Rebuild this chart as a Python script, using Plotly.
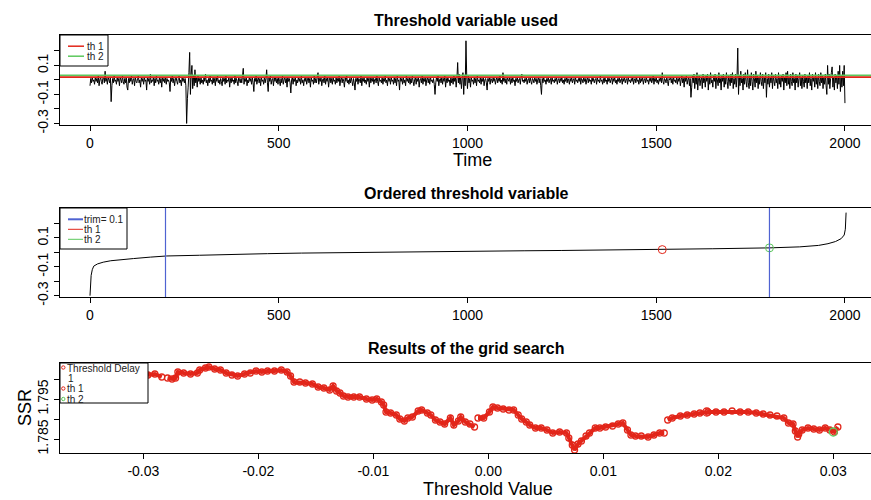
import plotly.graph_objects as go

# ---------------- data ----------------
# Panel 1: threshold variable (read at every 2nd time step)
threshold_series = [
    -0.04, 0.01, -0.02, 0.02, -0.01, 0.00, -0.03, 0.02, -0.01, 0.01, -0.02, 0.03, -0.04, 0.00, 0.02, -0.01, -0.03, 0.01, 0.02, -0.02, 0.06, -0.01, 0.01, -0.03, 0.02,
    0.00, -0.02, 0.02, -0.15, -0.04, 0.01, -0.02, 0.03, -0.01, 0.00, -0.03, 0.02, -0.01, 0.01, -0.04, 0.02, 0.00, -0.02, 0.03, -0.01, -0.03, 0.01, -0.02, 0.02, -0.05,
    -0.07, 0.01, -0.02, 0.02, -0.01, 0.03, -0.03, 0.00, 0.01, -0.04, 0.02, -0.01, -0.02, 0.01, 0.03, -0.02, 0.00, -0.05, 0.02, -0.01, 0.01, -0.03, 0.02, -0.01, 0.00,
    -0.07, 0.02, -0.01, 0.01, -0.03, 0.04, -0.02, 0.00, -0.01, 0.02, -0.04, 0.01, -0.02, 0.03, -0.01, 0.00, -0.03, 0.02, -0.02, 0.01, -0.05, 0.02, -0.01, 0.01, -0.02,
    0.02, -0.03, 0.01, -0.01, 0.00, -0.02, -0.08, 0.02, -0.01, 0.03, -0.02, 0.01, -0.04, 0.00, 0.02, -0.01, -0.03, 0.01, 0.03, -0.02, 0.00, -0.04, 0.02, -0.01, 0.01,
    -0.02, 0.01, -0.04, -0.30, -0.13, -0.05, 0.05, 0.19, -0.10, 0.04, 0.10, -0.06, 0.03, -0.04, 0.07, -0.02, 0.02, -0.05, 0.03, -0.01, 0.01, -0.03, 0.02, -0.02, 0.00,
    -0.03, 0.02, -0.01, 0.04, -0.02, 0.00, -0.04, 0.01, -0.02, 0.03, -0.01, 0.00, -0.03, 0.02, -0.02, 0.01, -0.04, 0.02, -0.01, 0.03, -0.02, 0.00, -0.03, 0.01, -0.01,
    -0.04, 0.02, -0.01, 0.01, -0.03, 0.03, -0.02, 0.00, -0.01, 0.02, -0.05, 0.01, -0.02, 0.02, -0.01, 0.00, -0.03, 0.03, -0.02, 0.01, -0.01, -0.04, 0.02, 0.00, -0.02,
    0.01, -0.02, 0.03, 0.08, -0.03, 0.01, -0.01, 0.02, -0.04, 0.00, -0.02, 0.02, -0.01, 0.01, -0.03, 0.02, -0.02, -0.08, 0.01, -0.01, 0.03, -0.03, 0.00, 0.02, -0.02,
    0.01, -0.04, 0.02, -0.01, 0.00, -0.03, 0.02, -0.02, 0.01, 0.07, -0.02, -0.08, 0.02, -0.01, 0.03, -0.03, 0.00, 0.01, -0.04, 0.02, -0.01, 0.02, -0.02, 0.01, -0.03,
    0.02, -0.01, -0.04, 0.01, -0.02, 0.03, -0.03, 0.00, 0.02, -0.02, 0.01, -0.05, 0.02, -0.01, 0.01, -0.02, -0.09, 0.00, 0.02, -0.03, 0.01, -0.01, 0.02, -0.04, 0.00,
    -0.02, 0.02, -0.01, 0.01, -0.03, 0.03, -0.02, 0.00, -0.04, 0.01, -0.01, 0.02, -0.03, 0.00, 0.02, -0.02, 0.01, -0.05, 0.02, -0.01, 0.00, -0.03, 0.03, -0.02, 0.01,
    -0.02, 0.02, 0.05, -0.03, 0.01, -0.01, 0.02, -0.04, 0.00, 0.01, -0.02, 0.03, -0.03, 0.01, -0.01, 0.02, -0.05, 0.00, 0.02, -0.02, 0.01, -0.03, 0.02, -0.01, 0.00,
    -0.03, 0.02, -0.02, 0.01, -0.01, 0.03, -0.04, 0.00, 0.02, -0.02, 0.01, -0.01, -0.05, 0.02, -0.01, 0.03, -0.02, 0.00, -0.03, 0.01, -0.02, 0.02, -0.01, -0.04, 0.01,
    -0.02, -0.07, 0.01, -0.01, 0.02, -0.03, 0.01, 0.00, -0.02, 0.03, -0.04, 0.01, -0.01, 0.02, -0.02, 0.00, -0.03, 0.02, -0.01, 0.01, -0.05, 0.02, -0.02, 0.01, -0.01,
    0.02, -0.03, 0.00, 0.01, -0.02, 0.03, -0.01, -0.04, 0.02, -0.01, 0.00, -0.02, 0.02, -0.03, 0.01, -0.01, 0.03, -0.02, 0.00, -0.04, 0.02, -0.01, 0.01, -0.03, 0.02,
    -0.01, 0.00, -0.03, 0.02, -0.02, 0.01, -0.04, 0.03, -0.01, 0.00, -0.07, 0.02, -0.01, 0.01, -0.03, 0.02, -0.02, 0.00, -0.04, 0.03, -0.01, 0.01, -0.02, 0.02, -0.03,
    0.01, -0.02, 0.03, -0.01, -0.04, 0.00, 0.02, -0.03, 0.01, -0.01, 0.02, -0.05, 0.00, 0.01, -0.02, 0.03, -0.03, 0.01, -0.01, 0.02, -0.04, 0.00, 0.02, -0.02, 0.01,
    -0.03, 0.02, -0.01, 0.00, -0.02, 0.01, -0.03, -0.10, -0.02, 0.02, -0.01, 0.03, -0.04, 0.00, 0.01, -0.02, 0.02, -0.03, 0.01, -0.01, 0.03, -0.05, 0.01, -0.02, 0.02,
    -0.01, 0.00, -0.04, 0.02, -0.02, 0.01, -0.03, 0.03, -0.01, 0.02, -0.05, 0.01, 0.12, -0.02, 0.04, -0.03, 0.02, -0.06, 0.01, 0.05, -0.10, 0.03, -0.04, 0.27, 0.02,
    -0.06, 0.03, -0.02, 0.01, -0.05, 0.02, -0.01, 0.00, -0.03, 0.02, -0.02, 0.01, -0.04, 0.03, -0.01, 0.00, -0.02, 0.02, -0.03, 0.01, -0.01, 0.02, -0.04, 0.00, 0.01,
    -0.02, -0.07, 0.01, -0.01, 0.02, -0.03, 0.01, 0.00, -0.02, 0.02, -0.01, 0.01, -0.03, 0.00, 0.02, -0.02, 0.01, -0.01, 0.03, -0.02, 0.00, -0.03, 0.05, -0.01, 0.01,
    -0.02, 0.01, -0.03, 0.02, 0.00, -0.01, 0.02, -0.03, 0.01, -0.02, 0.02, -0.01, 0.00, -0.04, 0.01, -0.01, 0.02, -0.02, 0.00, 0.01, -0.03, 0.02, 0.04, -0.01, 0.00,
    -0.02, 0.01, -0.01, 0.02, -0.03, 0.00, 0.01, -0.02, 0.02, -0.01, -0.03, 0.01, 0.00, -0.02, 0.02, -0.01, 0.01, -0.03, 0.00, 0.02, -0.02, 0.01, -0.04, -0.10, 0.01,
    -0.02, 0.02, -0.01, 0.00, -0.03, 0.01, -0.01, 0.02, -0.02, 0.00, 0.01, -0.03, 0.02, -0.01, 0.00, -0.02, 0.01, -0.01, 0.02, -0.03, 0.00, 0.01, -0.02, 0.01, -0.01,
    0.02, -0.02, 0.00, -0.03, 0.01, -0.01, 0.02, -0.02, 0.01, 0.00, -0.03, 0.01, -0.01, 0.02, -0.02, 0.00, 0.01, -0.03, 0.02, -0.01, 0.00, -0.02, 0.01, -0.01, 0.02,
    -0.03, 0.01, 0.00, -0.02, 0.02, -0.01, 0.01, -0.03, 0.00, 0.02, -0.02, 0.01, -0.01, 0.00, -0.03, 0.02, -0.01, 0.01, -0.02, 0.00, 0.01, -0.03, 0.02, -0.01, 0.00,
    -0.02, 0.03, -0.01, 0.00, -0.03, 0.01, -0.02, 0.02, -0.01, 0.00, -0.03, 0.02, -0.01, 0.01, -0.02, 0.00, 0.02, -0.03, 0.01, -0.01, 0.02, -0.02, 0.00, -0.03, 0.01,
    -0.01, 0.02, -0.02, 0.00, 0.01, -0.03, 0.01, -0.01, 0.02, -0.02, 0.00, 0.01, -0.03, 0.02, -0.01, 0.00, -0.02, 0.01, -0.01, 0.02, -0.03, 0.00, 0.01, -0.02, 0.02,
    -0.01, 0.00, -0.03, 0.02, -0.02, 0.01, -0.01, 0.02, -0.03, 0.00, 0.01, -0.02, 0.02, -0.01, 0.00, -0.03, 0.01, -0.01, 0.02, -0.02, 0.00, 0.03, -0.03, 0.01, -0.01,
    0.02, -0.02, 0.00, -0.03, 0.01, -0.01, 0.02, -0.02, 0.05, -0.01, -0.03, 0.01, 0.00, -0.02, 0.02, -0.01, -0.04, 0.01, 0.00, 0.02, -0.02, 0.01, -0.03, 0.02, -0.01,
    0.00, -0.02, 0.02, -0.03, 0.01, -0.01, 0.02, -0.04, 0.00, 0.03, -0.02, 0.01, -0.05, 0.02, -0.01, 0.03, -0.03, 0.00, 0.02, -0.04, 0.01, -0.12, -0.05, 0.03, -0.02,
    0.04, -0.06, 0.02, -0.03, 0.05, -0.07, 0.01, 0.03, -0.04, 0.00, 0.02, -0.06, 0.04, -0.02, 0.01, -0.05, 0.03, -0.01, 0.04, -0.07, 0.02, -0.03, 0.05, -0.02, 0.00,
    -0.05, 0.03, -0.01, 0.04, -0.06, 0.02, 0.00, -0.04, 0.05, -0.02, 0.01, -0.07, 0.03, -0.01, 0.04, -0.05, 0.02, -0.03, 0.05, -0.01, -0.06, 0.03, 0.00, -0.04, 0.04,
    -0.02, 0.05, -0.06, 0.01, -0.03, 0.04, -0.05, 0.02, 0.22, -0.10, 0.03, -0.04, 0.06, -0.02, 0.01, -0.07, 0.04, -0.03, 0.05, -0.01, -0.05, 0.07, -0.02, -0.06, 0.03,
    -0.04, 0.05, -0.01, -0.07, 0.04, 0.01, -0.05, 0.06, -0.02, 0.03, -0.06, 0.02, -0.03, 0.05, -0.01, -0.04, 0.04, -0.06, 0.02, -0.02, 0.05, -0.12, 0.01, -0.03, 0.04,
    -0.05, 0.02, -0.02, 0.05, -0.06, 0.03, -0.01, -0.04, 0.04, -0.02, 0.01, -0.06, 0.05, -0.03, 0.02, -0.05, 0.03, -0.01, 0.04, -0.07, 0.02, -0.02, 0.05, -0.04, 0.06,
    -0.03, 0.02, -0.06, 0.04, -0.01, -0.04, 0.05, -0.02, 0.01, -0.07, 0.04, -0.02, 0.03, -0.05, 0.01, 0.05, -0.04, 0.02, -0.06, 0.03, -0.01, -0.05, 0.04, -0.02, 0.02,
    -0.06, 0.03, -0.02, 0.05, -0.04, 0.01, -0.07, 0.04, -0.01, 0.02, -0.05, 0.05, -0.03, 0.02, -0.06, 0.04, -0.01, -0.04, 0.05, -0.02, 0.03, -0.06, 0.02, -0.03, 0.04,
    -0.04, -0.10, 0.10, -0.03, 0.04, -0.06, 0.01, 0.05, 0.09, -0.05, 0.02, -0.07, 0.04, -0.02, 0.03, -0.06, 0.06, -0.03, 0.10, -0.08, 0.03, -0.05, 0.06, -0.04, 0.10,
    -0.16,
]
time_idx = list(range(0, 2 * len(threshold_series), 2))

# thresholds found
th_labels = ["th 1", "th 2"]
th_values = [0.019, 0.031]

# Panel 2: ordered threshold variable
ord_idx = [0, 1, 3, 6, 10, 20, 35, 55, 80, 115, 160, 203, 290, 380, 470, 560,
           700, 850, 1000, 1150, 1250, 1380, 1516, 1650, 1800, 1880, 1930,
           1955, 1975, 1990, 1998, 2001, 2003]
ord_vals = [-0.30, -0.20, -0.16, -0.12, -0.095, -0.08, -0.068, -0.058, -0.05,
            -0.043, -0.033, -0.025, -0.02, -0.013, -0.009, -0.005, 0.0, 0.004,
            0.008, 0.011, 0.013, 0.016, 0.019, 0.025, 0.031, 0.038, 0.048,
            0.06, 0.075, 0.095, 0.12, 0.16, 0.275]
th_order_idx = [1516, 1800]
trim_idx = [200, 1800]

# Panel 3: grid search results (threshold value vs SSR); None = gap
grid_th = [
    -0.0296, -0.0290, -0.0284, None,
    -0.0279, -0.0275, -0.0272, -0.0270, -0.0265, -0.0259, -0.0253, -0.0251,
    -0.0246, -0.0243, -0.0238, -0.0233, -0.0228, -0.0223, -0.0218, -0.0212,
    -0.0207, -0.0202, -0.0197, -0.0192, -0.0186, -0.0180, -0.0175, -0.0172,
    -0.0169, -0.0164, -0.0159, -0.0153, -0.0148, -0.0143, -0.0138, -0.0135,
    -0.0132, -0.0129, -0.0126, -0.0122, -0.0117, -0.0112, -0.0106, -0.0101,
    -0.0097, -0.0093, -0.0091, -0.0089, -0.0085, -0.0080, -0.0077, -0.0073,
    -0.0070, -0.0066, -0.0061, -0.0058, -0.0053, -0.0050, -0.0046, -0.0042,
    -0.0038, -0.0033, -0.0030, -0.0026, -0.0024, -0.0020, -0.0016, -0.0012,
    None,
    -0.0009, -0.0004, 0.0001, 0.0004, 0.0008, 0.0013, 0.0018, 0.0022, 0.0026,
    0.0029, 0.0033, 0.0036, 0.0041, 0.0046, 0.0051, 0.0056, 0.0062, 0.0068,
    0.0070, 0.0073, 0.0075, 0.0078, 0.0081, 0.0085, 0.0088, 0.0093, 0.0097,
    0.0102, 0.0108, 0.0113, 0.0117, 0.0121, 0.0124, 0.0128, 0.0133, 0.0139,
    0.0144, 0.0149, 0.0153,
    None,
    0.0156, 0.0160, 0.0167, 0.0173, 0.0179, 0.0184, 0.0191, 0.0198, 0.0205,
    0.0212, 0.0219, 0.0226, 0.0233, 0.0239, 0.0245, 0.0251, 0.0257, 0.0261,
    0.0265, 0.0267, 0.0269, 0.0270, 0.0273, 0.0278, 0.0283, 0.0288, 0.0293,
    0.0297, 0.0301, 0.0304,
]
grid_ssr = [
    1.8010, 1.80125, 1.8005, None,
    1.80025, 1.8000, 1.80025, 1.80175, 1.8015, 1.80125, 1.8015, 1.80225,
    1.80275, 1.8030, 1.8025, 1.80225, 1.8015, 1.8010, 1.80075, 1.80125,
    1.8015, 1.8020, 1.80175, 1.8020, 1.8020, 1.80225, 1.80175, 1.80075,
    1.79925, 1.79925, 1.7990, 1.79875, 1.7980, 1.79775, 1.79725, 1.79825,
    1.7970, 1.7965, 1.79575, 1.7955, 1.7955, 1.7955, 1.7950, 1.79475,
    1.7950, 1.79425, 1.7935, 1.79175, 1.7915, 1.7910, 1.7900, 1.7895,
    1.79025, 1.7905, 1.7920, 1.79225, 1.7915, 1.7910, 1.78975, 1.78925,
    1.78875, 1.79025, 1.7885, 1.7895, 1.7905, 1.78925, 1.78875, 1.7880,
    None,
    1.79025, 1.79025, 1.79175, 1.7930, 1.79275, 1.7925, 1.79225, 1.79225, 1.7910,
    1.7900, 1.78925, 1.7885, 1.78775, 1.78775, 1.78725, 1.7865, 1.78675, 1.7865,
    1.78525, 1.7835, 1.78225, 1.78375, 1.7845, 1.78575, 1.7865, 1.78775, 1.78775,
    1.7880, 1.78825, 1.78875, 1.7890, 1.78725, 1.7860, 1.78575, 1.78575, 1.7855,
    1.7860, 1.7865, 1.7865,
    None,
    1.78975, 1.79025, 1.79075, 1.7910, 1.79125, 1.7915, 1.79175, 1.79175, 1.79175,
    1.7920, 1.79175, 1.79175, 1.7915, 1.79125, 1.7910, 1.79075, 1.79025, 1.7890,
    1.78875, 1.7870, 1.7855, 1.78625, 1.78725, 1.78775, 1.7875, 1.78725, 1.78775,
    1.78725, 1.78675, 1.7880,
]
th_grid_x = [0.019, 0.030]
th_grid_ssr = [1.79175, 1.78675]

# ---------------- styling ----------------
FONT = "Liberation Sans, Arial, Helvetica, sans-serif"
W, H = 871, 500
ML = 60
PW = W - ML
RED = "#e2261a"
GREEN = "#5cc85c"
BLUE = "#4f63d2"


def px(x):
    return (x - ML) / PW


def py(y):
    return 1 - y / H


fig = go.Figure()

fig.add_trace(go.Scatter(x=time_idx, y=threshold_series, mode="lines",
                         line=dict(color="black", width=1, simplify=False),
                         xaxis="x", yaxis="y", hoverinfo="skip"))
fig.add_trace(go.Scatter(x=ord_idx, y=ord_vals, mode="lines",
                         line=dict(color="black", width=1),
                         xaxis="x2", yaxis="y2", hoverinfo="skip"))
fig.add_trace(go.Scatter(x=th_order_idx, y=th_values, mode="markers",
                         marker=dict(symbol="circle-open", size=8,
                                     color=[RED, GREEN], line=dict(width=1)),
                         xaxis="x2", yaxis="y2", hoverinfo="skip"))
fig.add_trace(go.Scatter(x=grid_th, y=grid_ssr, mode="lines+markers",
                         line=dict(color=RED, width=4),
                         marker=dict(symbol="circle-open", size=6, color=RED,
                                     line=dict(width=1.3)),
                         connectgaps=False,
                         xaxis="x3", yaxis="y3", hoverinfo="skip"))
fig.add_trace(go.Scatter(x=th_grid_x, y=th_grid_ssr, mode="markers",
                         marker=dict(symbol="circle-open", size=8,
                                     color=[RED, GREEN], line=dict(width=1.3)),
                         xaxis="x3", yaxis="y3", hoverinfo="skip"))

common = dict(showline=True, linecolor="black", linewidth=1, mirror=True,
              ticks="outside", ticklen=5, tickcolor="black", tickwidth=1,
              showgrid=False, zeroline=False, automargin=False,
              tickfont=dict(family=FONT, size=14, color="black"))

time_ticks = [0, 500, 1000, 1500, 2000]
time_text = ["0", "500", "1000", "1500", "2000"]
tv_ticks = [-0.3, -0.2, -0.1, 0.0, 0.1, 0.2]
tv_text = ["-0.3", "", "-0.1", "", "0.1", ""]
ssr_ticks = [1.785, 1.790, 1.795, 1.800]
ssr_text = ["1.785", "", "1.795", ""]
th_ticks = [-0.03, -0.02, -0.01, 0.0, 0.01, 0.02, 0.03]
th_text = ["-0.03", "-0.02", "-0.01", "0.00", "0.01", "0.02", "0.03"]

fig.update_layout(
    width=W, height=H, template="none",
    margin=dict(l=ML, r=0, t=0, b=0),
    paper_bgcolor="white", plot_bgcolor="white",
    showlegend=False, hovermode=False,
    xaxis=dict(common, domain=[0, 1], anchor="y", range=[-79.5, 2069],
               tickvals=time_ticks, ticktext=time_text),
    yaxis=dict(common, domain=[py(125), py(35)], anchor="x",
               range=[-0.311, 0.31], tickvals=tv_ticks, ticktext=tv_text,
               tickangle=-90),
    xaxis2=dict(common, domain=[0, 1], anchor="y2", range=[-79.5, 2069],
                tickvals=time_ticks, ticktext=time_text),
    yaxis2=dict(common, domain=[py(297), py(208)], anchor="x2",
                range=[-0.309, 0.307], tickvals=tv_ticks, ticktext=tv_text,
                tickangle=-90),
    xaxis3=dict(common, domain=[0, 1], anchor="y3", range=[-0.03725, 0.03328],
                tickvals=th_ticks, ticktext=th_text),
    yaxis3=dict(common, domain=[py(453), py(363)], anchor="x3",
                range=[1.7815, 1.804], tickvals=ssr_ticks, ticktext=ssr_text,
                tickangle=-90),
)

shapes = []
# threshold lines in panel 1 (green first, red drawn on top)
for v, c in [(th_values[1], GREEN), (th_values[0], RED)]:
    shapes.append(dict(type="line", xref="x domain", yref="y", x0=0, x1=1,
                       y0=v, y1=v, line=dict(color=c, width=1.8)))
# trim lines in panel 2
for t in trim_idx:
    shapes.append(dict(type="line", xref="x2", yref="y2 domain", x0=t, x1=t,
                       y0=0, y1=1, line=dict(color=BLUE, width=1.2)))


def box(x0, y0, x1, y1):
    shapes.append(dict(type="rect", xref="paper", yref="paper",
                       x0=px(x0), x1=px(x1), y0=py(y1), y1=py(y0),
                       line=dict(color="black", width=1), fillcolor="white"))


def seg(x0, x1, y, color, width):
    shapes.append(dict(type="line", xref="paper", yref="paper",
                       x0=px(x0), x1=px(x1), y0=py(y), y1=py(y),
                       line=dict(color=color, width=width)))


def dot(x, y, color, r=1.7):
    shapes.append(dict(type="circle", xref="paper", yref="paper",
                       x0=px(x - r), x1=px(x + r), y0=py(y + r), y1=py(y - r),
                       line=dict(color=color, width=1)))


annotations = []


def text(s, x, y, size=10, anchor="left", bold=False, angle=0, color="#222"):
    annotations.append(dict(text=f"<b>{s}</b>" if bold else s,
                            xref="paper", yref="paper", x=px(x), y=py(y),
                            xanchor=anchor, yanchor="middle", showarrow=False,
                            textangle=angle, borderpad=0,
                            font=dict(family=FONT, size=size, color=color)))


# legend panel 1
box(60, 35, 108, 66)
seg(68, 84, 46.2, RED, 1.5)
seg(68, 84, 56.2, GREEN, 1.5)
text("th 1", 86, 46.2)
text("th 2", 86, 56.2)

# legend panel 2
box(60, 208, 127, 249)
seg(68, 83, 219.3, BLUE, 2)
seg(68, 83, 229.3, RED, 1)
seg(68, 83, 239.3, GREEN, 1)
text("trim= 0.1", 83, 219.3)
text("th 1", 83, 229.3)
text("th 2", 83, 239.3)

# legend panel 3
box(60, 363, 148, 403)
dot(63.3, 367.5, RED)
dot(63.3, 388.5, RED)
dot(63.3, 399, GREEN)
text("Threshold Delay", 65.5, 368)
text("1", 66.5, 378.5)
text("th 1", 65.5, 388.5)
text("th 2", 65.5, 399)

# titles
text("Threshold variable used", 466, 20, size=16, anchor="center", bold=True, color="black")
text("Ordered threshold variable", 466, 193, size=16, anchor="center", bold=True, color="black")
text("Results of the grid search", 466, 348, size=16, anchor="center", bold=True, color="black")
text("Time", 472, 160, size=18, anchor="center", color="black")
text("Threshold Value", 488, 489, size=18, anchor="center", color="black")
text("SSR", 25, 408, size=18, anchor="center", angle=-90, color="black")

fig.update_layout(shapes=shapes, annotations=annotations)
fig.write_html("out.html")
